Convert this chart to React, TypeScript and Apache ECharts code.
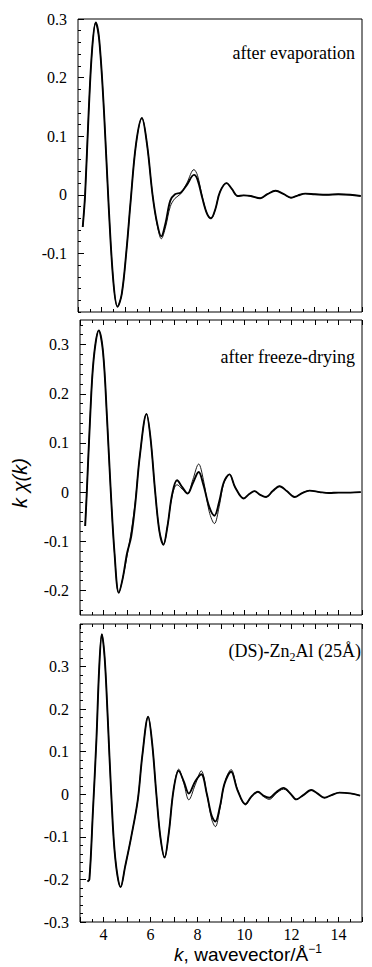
import React, { useEffect, useRef } from "react";
import * as echarts from "echarts";

// ---------- data ----------
const K1 = [3.20, 3.30, 3.45, 3.60, 3.75, 3.90, 4.10, 4.30, 4.50, 4.67, 4.85, 5.05, 5.22, 5.45, 5.70, 5.92, 6.15, 6.35, 6.52, 6.70, 6.90, 7.10, 7.35, 7.60, 7.90, 8.05, 8.25, 8.45, 8.62, 8.80, 9.00, 9.28, 9.50, 9.75, 10.0, 10.3, 10.7, 11.0, 11.35, 11.7, 12.0, 12.3, 12.6, 13.0, 13.5, 14.0, 14.5, 14.95];
const EXP1 = [-0.055, 0.000, 0.140, 0.250, 0.294, 0.263, 0.141, -0.022, -0.151, -0.191, -0.169, -0.094, -0.013, 0.086, 0.131, 0.085, 0.000, -0.050, -0.071, -0.048, -0.010, 0.001, 0.004, 0.017, 0.034, 0.026, -0.005, -0.032, -0.040, -0.025, 0.005, 0.020, 0.010, -0.002, -0.001, -0.002, -0.006, 0.001, 0.007, 0.001, -0.005, -0.001, 0.002, 0.001, 0.000, 0.001, 0.000, -0.002];
const FIT1 = [-0.055, 0.000, 0.140, 0.250, 0.294, 0.263, 0.141, -0.022, -0.151, -0.191, -0.169, -0.094, -0.013, 0.086, 0.131, 0.085, 0.000, -0.052, -0.075, -0.055, -0.020, -0.006, 0.002, 0.020, 0.043, 0.033, -0.003, -0.032, -0.041, -0.025, 0.005, 0.020, 0.010, -0.002, -0.001, -0.002, -0.006, 0.001, 0.007, 0.001, -0.005, -0.001, 0.002, 0.001, 0.000, 0.001, 0.000, -0.002];

const K2 = [3.22, 3.28, 3.42, 3.58, 3.80, 3.98, 4.15, 4.30, 4.47, 4.65, 4.82, 5.00, 5.18, 5.35, 5.55, 5.83, 6.00, 6.20, 6.38, 6.55, 6.72, 6.92, 7.13, 7.35, 7.58, 7.80, 8.05, 8.25, 8.50, 8.72, 8.92, 9.12, 9.36, 9.60, 9.97, 10.2, 10.43, 10.65, 10.92, 11.2, 11.49, 11.8, 12.13, 12.45, 12.77, 13.2, 13.6, 14.0, 14.5, 14.95];
const EXP2 = [-0.069, -0.010, 0.140, 0.270, 0.329, 0.285, 0.150, 0.010, -0.125, -0.205, -0.175, -0.125, -0.090, -0.025, 0.075, 0.159, 0.110, 0.000, -0.080, -0.107, -0.070, -0.005, 0.024, 0.010, -0.003, 0.018, 0.041, 0.015, -0.030, -0.048, -0.020, 0.020, 0.036, 0.010, -0.013, -0.004, 0.002, -0.005, -0.010, 0.002, 0.012, 0.002, -0.010, -0.002, 0.003, 0.000, -0.002, -0.001, -0.001, 0.000];
const FIT2 = [-0.069, -0.010, 0.140, 0.270, 0.329, 0.285, 0.150, 0.010, -0.125, -0.205, -0.175, -0.130, -0.080, -0.020, 0.075, 0.159, 0.110, 0.000, -0.080, -0.107, -0.070, -0.008, 0.015, 0.006, -0.003, 0.025, 0.057, 0.025, -0.040, -0.064, -0.030, 0.018, 0.036, 0.010, -0.013, -0.004, 0.002, -0.005, -0.010, 0.002, 0.012, 0.002, -0.010, -0.002, 0.003, 0.000, -0.002, -0.001, -0.001, 0.000];

const K3 = [3.32, 3.40, 3.55, 3.70, 3.82, 3.93, 4.05, 4.18, 4.33, 4.50, 4.73, 4.92, 5.18, 5.46, 5.65, 5.90, 6.07, 6.25, 6.42, 6.60, 6.78, 6.98, 7.20, 7.42, 7.63, 7.90, 8.16, 8.40, 8.60, 8.76, 8.95, 9.15, 9.43, 9.70, 10.04, 10.30, 10.57, 10.80, 11.06, 11.35, 11.66, 11.95, 12.20, 12.50, 12.84, 13.10, 13.40, 13.70, 14.04, 14.50, 14.92];
const EXP3 = [-0.205, -0.200, -0.040, 0.130, 0.300, 0.376, 0.320, 0.180, 0.000, -0.150, -0.218, -0.170, -0.100, -0.013, 0.090, 0.182, 0.120, 0.000, -0.100, -0.148, -0.090, 0.010, 0.055, 0.030, 0.002, 0.030, 0.047, 0.000, -0.050, -0.064, -0.030, 0.025, 0.053, 0.010, -0.023, -0.005, 0.006, -0.003, -0.008, 0.005, 0.015, 0.002, -0.012, -0.002, 0.010, 0.002, -0.008, -0.002, 0.004, 0.002, -0.003];
const FIT3 = [-0.205, -0.200, -0.040, 0.130, 0.300, 0.376, 0.320, 0.180, 0.000, -0.150, -0.218, -0.170, -0.100, -0.013, 0.090, 0.182, 0.120, 0.000, -0.100, -0.150, -0.090, 0.010, 0.059, 0.025, -0.013, 0.022, 0.055, 0.000, -0.058, -0.076, -0.035, 0.025, 0.058, 0.012, -0.025, -0.005, 0.006, -0.005, -0.012, 0.002, 0.012, 0.002, -0.012, -0.002, 0.010, 0.002, -0.008, -0.002, 0.004, 0.002, -0.003];

const X_LABELS = [4, 6, 8, 10, 12, 14];
const Y_LABELS_1 = [-0.1, 0, 0.1, 0.2, 0.3];
const Y_LABELS_2 = [-0.2, -0.1, 0, 0.1, 0.2, 0.3];
const Y_LABELS_3 = [-0.3, -0.2, -0.1, 0, 0.1, 0.2, 0.3];
const Y_RANGE_1 = [-0.2, 0.3];
const Y_RANGE_2 = [-0.25, 0.35];
const Y_RANGE_3 = [-0.3, 0.4];
const TITLES = ["after evaporation", "after freeze-drying", "{a|(DS)-Zn}{s|2}{a|Al (25Å)}"];

// ---------- layout ----------
const GRIDS = [
  { left: 78, top: 19, width: 284, height: 293 },
  { left: 80, top: 320, width: 282, height: 295 },
  { left: 80, top: 624, width: 282, height: 298 },
];
const TITLE_POS = [
  { x: 355, y: 53 },
  { x: 355, y: 357 },
  { x: 361, y: 651 },
];

const SERIF = "Liberation Serif";
const SANS = "Liberation Sans";

function minorList(min: number, max: number, step: number) {
  const out: number[] = [];
  const start = Math.ceil(min / step - 1e-9);
  const end = Math.floor(max / step + 1e-9);
  for (let i = start; i <= end; i++) out.push(+(i * step).toFixed(4));
  return out;
}

const zip = (k: number[], v: number[]) => k.map((x, i) => [x, v[i]]);

export default function App() {
  const ref = useRef<HTMLDivElement>(null);
  useEffect(() => {
    if (!ref.current) return;
    const chart = echarts.init(ref.current, undefined, { renderer: "svg" });
    const panels = [
      { k: K1, exp: EXP1, fit: FIT1, range: Y_RANGE_1, labels: Y_LABELS_1 },
      { k: K2, exp: EXP2, fit: FIT2, range: Y_RANGE_2, labels: Y_LABELS_2 },
      { k: K3, exp: EXP3, fit: FIT3, range: Y_RANGE_3, labels: Y_LABELS_3 },
    ];
    const xAxis: any[] = [];
    const yAxis: any[] = [];
    const series: any[] = [];
    const line = { color: "#000", width: 1 };
    panels.forEach((p, i) => {
      const xi = xAxis.length;
      xAxis.push({
        gridIndex: i, type: "value", min: 3, max: 15, interval: 1, position: "bottom",
        axisLine: { show: false, onZero: false }, splitLine: { show: false },
        axisTick: { show: true, inside: true, length: 5, lineStyle: line },
        minorTick: { show: true, splitNumber: 2, length: 3, lineStyle: line },
        axisLabel: {
          show: i === 2, customValues: X_LABELS, margin: 4,
          fontFamily: SERIF, fontSize: 16, color: "#000",
        },
      });
      if (i > 0) {
        xAxis.push({
          gridIndex: i, type: "value", min: 3, max: 15, interval: 1, position: "top",
          axisLine: { show: false, onZero: false }, splitLine: { show: false },
          axisTick: { show: true, inside: true, length: 5, lineStyle: line },
          minorTick: { show: true, splitNumber: 2, length: 3, lineStyle: line },
          axisLabel: { show: false },
        });
      }
      const yi = yAxis.length;
      yAxis.push({
        gridIndex: i, type: "value", min: p.range[0], max: p.range[1], position: "left",
        axisLine: { show: false, onZero: false }, splitLine: { show: false },
        axisTick: { show: true, inside: true, length: 6, customValues: p.labels, lineStyle: line },
        axisLabel: {
          customValues: p.labels, margin: 11,
          fontFamily: SERIF, fontSize: 16, color: "#000",
          formatter: (v: number) => (Math.abs(v) < 1e-9 ? "0" : v.toFixed(1)),
        },
      });
      yAxis.push({
        gridIndex: i, type: "value", min: p.range[0], max: p.range[1], position: "left",
        axisLine: { show: false, onZero: false }, splitLine: { show: false },
        axisTick: { show: true, inside: true, length: 3, customValues: minorList(p.range[0], p.range[1], 0.02), lineStyle: line },
        axisLabel: { show: false },
      });
      series.push({
        type: "line", xAxisIndex: xi, yAxisIndex: yi, data: zip(p.k, p.exp),
        showSymbol: false, smooth: 0.35, lineStyle: { color: "#000", width: 1.9 }, z: 2,
      });
      series.push({
        type: "line", xAxisIndex: xi, yAxisIndex: yi, data: zip(p.k, p.fit),
        showSymbol: false, smooth: 0.35, lineStyle: { color: "#000", width: 0.9 }, z: 3,
      });
    });

    const graphic: any[] = TITLES.map((t, i) => ({
      type: "text",
      x: TITLE_POS[i].x,
      y: TITLE_POS[i].y,
      style: {
        text: t,
        fontFamily: SERIF,
        fontSize: 18,
        fill: "#000",
        align: "right",
        verticalAlign: "middle",
        textAlign: "right",
        textVerticalAlign: "middle",
        rich: {
          a: { fontFamily: SERIF, fontSize: 18, fill: "#000", color: "#000" },
          s: { fontFamily: SERIF, fontSize: 12, fill: "#000", color: "#000", padding: [12, 0, 0, 0] },
        },
      },
    }));
    graphic.push({
      type: "text",
      x: 20,
      y: 483,
      rotation: Math.PI / 2,
      style: {
        text: "k χ(k)",
        fontFamily: SANS,
        fontStyle: "italic",
        fontSize: 20,
        fill: "#000",
        align: "center",
        verticalAlign: "middle",
        textAlign: "center",
        textVerticalAlign: "middle",
      },
    });
    graphic.push({
      type: "text",
      x: 248,
      y: 954,
      style: {
        text: "{i|k}{n|, wavevector/Å}{s|−1}",
        fill: "#000",
        align: "center",
        verticalAlign: "middle",
        textAlign: "center",
        textVerticalAlign: "middle",
        rich: {
          i: { fontFamily: SANS, fontStyle: "italic", fontSize: 19, fill: "#000", color: "#000" },
          n: { fontFamily: SANS, fontSize: 19, fill: "#000", color: "#000" },
          s: { fontFamily: SANS, fontSize: 12, fill: "#000", color: "#000", padding: [0, 0, 10, 0] },
        },
      },
    });

    chart.setOption({
      animation: false,
      backgroundColor: "#fff",
      grid: GRIDS.map((g) => ({ ...g, show: true, borderColor: "#000", borderWidth: 1, backgroundColor: "transparent" })),
      xAxis,
      yAxis,
      series,
      graphic,
    });
    return () => chart.dispose();
  }, []);
  return <div ref={ref} style={{ position: "absolute", left: 0, top: 0, width: 372, height: 967 }} />;
}
